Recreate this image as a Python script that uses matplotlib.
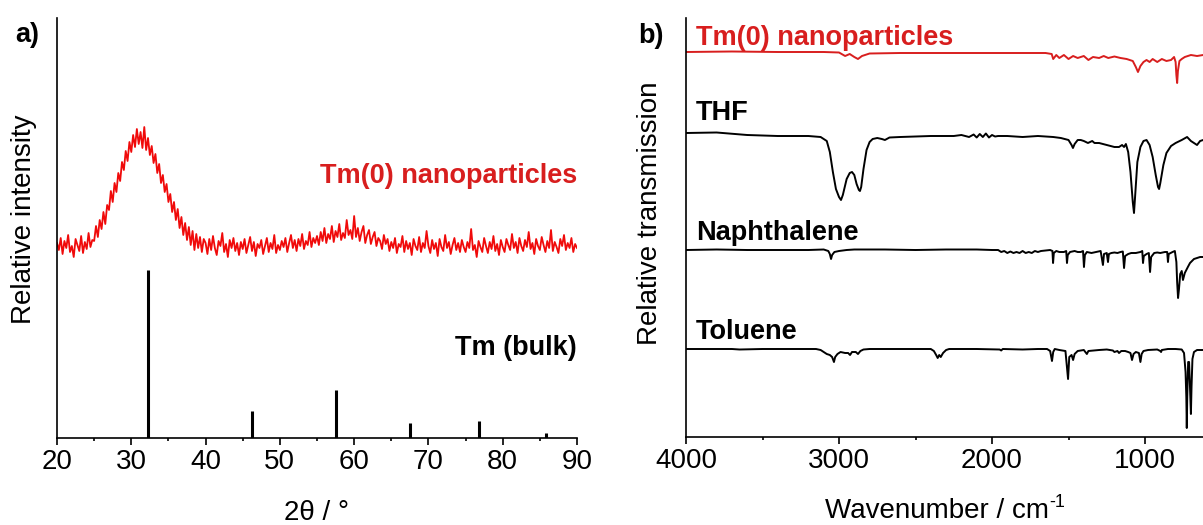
import numpy as np
import matplotlib
matplotlib.use('Agg')
import matplotlib.pyplot as plt

plt.rcParams['font.family'] = ['Liberation Sans', 'DejaVu Sans']

# ---- a) XRD ----
# nanoparticle pattern, 20..90 deg in 0.25 deg steps
xrd_np = [
    195, 188, 200, 184, 197, 190, 203, 186, 192, 181, 199, 193, 187, 202, 185, 196, 189, 205, 191, 198,
    197, 212, 201, 218, 209, 226, 214, 233, 228, 247, 236, 255, 246, 265, 257, 276, 268, 287, 277, 296,
    286, 303, 291, 309, 294, 306, 290, 311, 288, 300, 283, 292, 275, 284, 265, 274, 255, 263, 246, 254,
    236, 244, 226, 236, 218, 229, 210, 221, 203, 215, 198, 211, 193, 207, 188, 204, 190, 201, 186, 199,
    195, 184, 199, 188, 202, 190, 183, 197, 192, 205, 186, 194, 181, 198, 190, 200, 187, 195, 183, 196,
    189, 199, 185, 193, 201, 187, 196, 182, 194, 190, 198, 184, 192, 200, 186, 195, 189, 203, 185, 193,
    188, 197, 191, 200, 186, 195, 203, 190, 198, 187, 199, 192, 204, 189, 197, 193, 206, 191, 200, 195,
    202, 193, 206, 197, 210, 195, 204, 199, 212, 196, 207, 201, 214, 198, 205, 200, 218, 203, 208, 199,
    222, 201, 210, 197, 206, 212, 195, 203, 208, 194, 201, 206, 192, 200, 197, 189, 203, 194, 199, 187,
    196, 190, 200, 185, 194, 191, 202, 186, 197, 189, 195, 183, 199, 192, 188, 201, 186, 195, 190, 207,
    192, 185, 198, 189, 195, 182, 199, 191, 187, 203, 190, 196, 184, 193, 200, 188, 195, 186, 198, 191,
    186, 196, 190, 209, 188, 193, 181, 197, 191, 186, 200, 192, 185, 196, 189, 202, 187, 194, 183, 198,
    191, 186, 199, 193, 188, 204, 190, 196, 185, 200, 192, 187, 198, 191, 206, 189, 195, 184, 199, 192,
    188, 201, 193, 186, 197, 190, 208, 187, 196, 191, 185, 199, 192, 203, 188, 195, 190, 200, 186, 194,
    190]
xrd_2theta = np.linspace(20, 90, len(xrd_np))

bulk_pos = [32.3, 46.3, 57.5, 67.5, 76.8, 85.8]
bulk_int = [168, 27, 48, 15, 17, 5]

# ---- b) IR ----
tm_wn = [4000, 3700, 3400, 3100, 3000, 2960, 2930, 2900, 2876, 2850, 2800, 2600, 2400, 2200, 2000,
         1800, 1650, 1610, 1600, 1580, 1560, 1530, 1500, 1470, 1440, 1400, 1370, 1340, 1300, 1270,
         1240, 1200, 1160, 1120, 1080, 1060, 1046, 1030, 1010, 990, 970, 950, 920, 890, 860, 830,
         810, 800, 795, 790, 785, 775, 760, 740, 700, 660, 620]
tm_t = [385, 385.5, 385, 385, 384.5, 381, 383, 380, 378, 381, 383.5, 384, 384, 384, 384,
        384, 384, 383, 378, 382, 379, 382, 378, 381, 379, 381, 377, 380, 379, 381,
        379, 380.5, 379, 378, 376, 370, 365, 371, 375, 377, 375, 378, 375, 378, 376, 377,
        380, 375, 362, 354, 366, 376, 378, 380, 382, 381, 382]

thf_wn = [4000, 3800, 3600, 3400, 3200, 3120, 3080, 3060, 3040, 3020, 3000, 2987, 2975, 2950, 2930,
          2915, 2900, 2885, 2870, 2863, 2855, 2840, 2820, 2800, 2780, 2750, 2720, 2700, 2670, 2600,
          2400, 2250, 2200, 2150, 2120, 2100, 2080, 2060, 2040, 2020, 2000, 1980, 1960, 1900, 1800,
          1700, 1600, 1550, 1500, 1480, 1471, 1460, 1440, 1420, 1400, 1373, 1345, 1330, 1300, 1250,
          1200, 1170, 1150, 1137, 1125, 1110, 1095, 1080, 1072, 1065, 1050, 1030, 1010, 990, 970,
          950, 930, 915, 908, 900, 880, 860, 830, 800, 760, 725, 700, 680, 660, 640, 620]
thf_t = [304, 304.5, 302, 301, 301, 300, 296, 285, 265, 248, 240, 237, 242, 258, 264,
         265, 262, 253, 247, 246, 250, 268, 287, 295, 298, 299, 298, 297, 299.5, 300,
         301, 301, 302, 300, 302.5, 299.5, 303, 300, 303.5, 299.5, 302, 300.5, 301, 301, 300,
         301, 300, 299, 297, 292, 289, 293, 297, 297, 296, 294, 296, 294, 294, 292,
         290, 290, 292, 290, 293, 285, 265, 235, 224, 240, 275, 290, 296, 297, 292,
         280, 262, 250, 248, 254, 272, 284, 291, 294, 297, 300, 296, 294, 292, 296, 297]

nap_wn = [4000, 3800, 3600, 3400, 3200, 3100, 3070, 3060, 3052, 3045, 3030, 3000, 2950, 2900, 2700,
          2500, 2300, 2100, 2000, 1960, 1940, 1920, 1900, 1880, 1860, 1840, 1820, 1800, 1780, 1760,
          1740, 1720, 1700, 1680, 1650, 1620, 1605, 1601, 1596, 1580, 1560, 1530, 1515, 1510, 1505,
          1490, 1460, 1440, 1420, 1405, 1399, 1393, 1380, 1350, 1320, 1290, 1275, 1268, 1250, 1242,
          1236, 1220, 1200, 1180, 1160, 1145, 1137, 1130, 1110, 1090, 1060, 1030, 1018, 1013, 1008,
          990, 975, 967, 960, 940, 920, 900, 870, 855, 850, 845, 820, 805, 795, 790,
          784, 778, 770, 760, 752, 740, 720, 706, 680, 660, 640, 620]
nap_t = [187, 187.5, 187, 187, 187, 187.5, 186, 183, 178, 182, 185, 186, 187, 187.5, 187.5,
         187, 187.5, 187.5, 187, 187, 185, 186, 184, 185.5, 184, 185, 184, 186, 184, 185,
         184, 186, 185, 186, 186.5, 187, 186, 174, 184, 186, 185, 185, 186, 174, 182,
         185, 186, 185, 185, 186, 170, 182, 185, 184, 185, 186, 172, 183, 184, 175,
         183, 184, 184.5, 184, 185, 185.5, 169, 181, 183, 184, 184, 185, 186, 174, 181,
         183, 184, 165, 180, 184, 184.5, 184, 185, 185, 175, 183, 185, 186, 175, 155,
         139, 148, 163, 166, 157, 164, 170, 174, 178, 179, 180, 180]

tol_wn = [4000, 3700, 3650, 3500, 3300, 3150, 3120, 3100, 3080, 3060, 3045, 3033, 3025, 3010, 2990,
          2960, 2940, 2928, 2915, 2890, 2876, 2860, 2840, 2800, 2600, 2400, 2380, 2365, 2355, 2345,
          2335, 2320, 2300, 2280, 2100, 1950, 1940, 1930, 1800, 1700, 1640, 1620, 1608, 1600, 1590,
          1560, 1520, 1503, 1495, 1480, 1470, 1460, 1440, 1400, 1380, 1370, 1300, 1250, 1210, 1200,
          1180, 1170, 1155, 1130, 1110, 1095, 1085, 1075, 1060, 1040, 1030, 1022, 1010, 980, 920,
          900, 895, 890, 850, 800, 760, 745, 735, 730, 727, 724, 718, 712, 706, 700,
          696, 690, 680, 660, 640, 620]
tol_t = [88, 88, 87.5, 88, 88, 88, 87, 85, 83, 82, 80, 75, 80, 83, 85,
         84, 84, 82, 85, 85, 83, 86, 87.5, 88, 88, 88, 86, 82, 79, 82,
         80, 84, 87, 88, 88, 87.5, 86.5, 88, 87.5, 88, 88, 86, 76, 85, 88,
         87, 86, 58, 80, 82, 77, 83, 86, 87, 83, 86, 87, 87.5, 86.5, 85,
         86, 84, 86, 86, 85, 84, 77, 83, 85, 84, 75, 83, 86, 87, 87.5,
         86, 85, 87, 88, 88, 87.5, 84, 65, 40, 9, 40, 75, 75, 50, 23,
         50, 78, 85, 87, 87, 87]

red = '#f00a0a'
text_red = '#d81e1e'
fs = 20
bfs = 19.5

fig = plt.figure(figsize=(12.03, 5.25), dpi=100)
fig.patch.set_facecolor('white')

ax1 = fig.add_axes([57 / 1203, 87 / 525, 520 / 1203, 420 / 525])
ax2 = fig.add_axes([686 / 1203, 88 / 525, 517 / 1203, 419 / 525])

for ax in (ax1, ax2):
    for s in ('top', 'right'):
        ax.spines[s].set_visible(False)
    for s in ('left', 'bottom'):
        ax.spines[s].set_linewidth(1.2)
    ax.set_yticks([])
    ax.tick_params(axis='x', which='major', direction='out', length=5, width=1.2,
                   labelsize=fs, pad=3)
    ax.tick_params(axis='x', which='minor', direction='out', length=2.5, width=1.2)

# panel a
ax1.plot(xrd_2theta, xrd_np, color=red, lw=1.3)
ax1.vlines(bulk_pos, 0, bulk_int, color='black', lw=2.2)
ax1.set_xlim(20, 90)
ax1.set_ylim(0, 420)
ax1.set_xticks(range(20, 91, 10))
ax1.set_xticks(range(25, 90, 10), minor=True)
ax1.set_xlabel('2θ / °', fontsize=fs, labelpad=18)
ax1.set_ylabel('Relative intensity', fontsize=fs)
ax1.yaxis.set_label_coords(-0.038, 0.52)
ax1.text(90, 255, 'Tm(0) nanoparticles', color=text_red, fontsize=bfs, fontweight='bold',
         ha='right', va='baseline')
ax1.text(90, 83, 'Tm (bulk)', color='black', fontsize=bfs, fontweight='bold',
         ha='right', va='baseline')

# panel b
ax2.plot(tm_wn, tm_t, color=text_red, lw=1.4)
ax2.plot(thf_wn, thf_t, color='black', lw=1.4)
ax2.plot(nap_wn, nap_t, color='black', lw=1.4)
ax2.plot(tol_wn, tol_t, color='black', lw=1.4)
ax2.set_xlim(4000, 621)
ax2.set_ylim(0, 419)
ax2.set_xticks([4000, 3000, 2000, 1000])
ax2.set_xticks([3500, 2500, 1500], minor=True)
ax2.set_xlabel('Wavenumber / cm', fontsize=fs)
ax2.xaxis.set_label_coords(0.485, -0.176)
ax2.xaxis.label.set_va('center')
ax2.set_ylabel('Relative transmission', fontsize=fs)
ax2.yaxis.set_label_coords(-0.045, 0.535)
ax2.text(3935, 392, 'Tm(0) nanoparticles', color=text_red, fontsize=bfs, fontweight='bold',
         va='baseline')
ax2.text(3935, 317, 'THF', color='black', fontsize=bfs, fontweight='bold', va='baseline')
ax2.text(3935, 197, 'Naphthalene', color='black', fontsize=bfs, fontweight='bold', va='baseline')
ax2.text(3935, 98, 'Toluene', color='black', fontsize=bfs, fontweight='bold', va='baseline')

fig.text(15 / 1203, 1 - 42 / 525, 'a)', fontsize=bfs, fontweight='bold', va='baseline')
fig.text(638 / 1203, 1 - 43 / 525, 'b)', fontsize=bfs, fontweight='bold', va='baseline')

# superscript after the wavenumber label
fig.canvas.draw()
bb = ax2.xaxis.label.get_window_extent()
fig.text((bb.x1 + 1) / 1203, (bb.y0 + 17) / 525, '-1', fontsize=13, va='baseline')

fig.savefig('out.png', dpi=100, facecolor='white')
